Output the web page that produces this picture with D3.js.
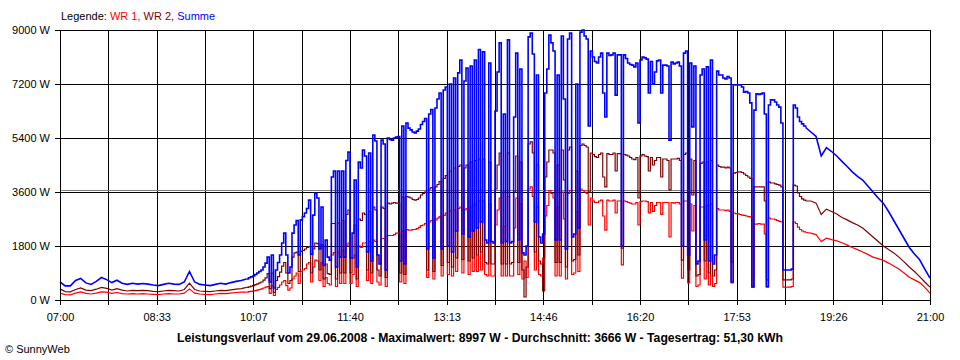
<!DOCTYPE html>
<html><head><meta charset="utf-8">
<script src="https://cdn.jsdelivr.net/npm/d3@7"></script>
<style>
html,body{margin:0;padding:0;background:#fff;}
svg{display:block;font-family:"Liberation Sans",Arial,sans-serif;}
</style></head>
<body><svg id="c" width="960" height="360"></svg>
<script>
// ---- data ----
// sampling blocks: [start minute after 07:00, step in minutes, number of samples]
const sampling = [[0,5,36],[180,2,271],[725,5,24]];
const xTickLabels = ["07:00","08:33","10:07","11:40","13:13","14:46","16:20","17:53","19:26","21:00"];
const yTickValues = [0,1800,3600,5400,7200,9000];
const yTickLabels = ["0 W","1800 W","3600 W","5400 W","7200 W","9000 W"];
const average = 3666;
const summe = [
600,470,470,650,720,570,520,620,750,680,580,660,560,520,560,530,550,530,500,480,520,560,530,520,600,950,600,520,500,480,520,560,530,580,620,650,
700,740,770,800,850,900,950,1000,1100,1230,
1430,600,1500,400,1000,1250,1500,1900,2230,1500,
900,1100,2230,2500,2650,1500,2670,2780,2900,3050,
3330,1530,2830,3560,3400,1700,3100,1150,2000,1430,
1330,4100,4300,1100,4300,1430,4300,1430,4650,4930,
1400,2230,4000,1100,4600,4400,5000,4800,1600,4900,
1300,5500,5300,1500,1200,5330,5200,1000,5400,5350,
5330,5400,5430,5450,1300,5800,1200,5900,5730,5670,
5600,5570,5630,5700,5850,5950,6050,1700,6200,6350,
1400,6400,6700,6900,1700,7000,7100,1800,7200,1600,
7400,2300,7570,8000,2200,7300,7730,2100,7800,2300,
8000,2400,8350,2600,8270,2000,1900,7900,1950,1900,
6300,7600,8570,1900,6200,1950,8670,1900,1950,6100,
8230,2000,7700,1570,1500,1800,8770,8900,8200,2600,
7500,2100,1900,2200,6900,7700,8830,8570,8300,2000,
7500,2000,8800,6700,1700,8700,8900,2100,2200,7200,
2400,8930,8997,8800,8700,5800,8300,8100,7950,7900,
8100,8230,6900,6100,8230,8150,8170,8230,6830,8170,
8170,1800,8170,8050,7900,7850,7830,7770,7900,5900,
8000,8100,8070,8030,6900,7950,7200,7600,7970,8000,
6900,7830,7830,7800,5330,7930,7870,7900,7930,7800,
1800,8230,8300,1500,7900,5770,7800,1200,1300,7500,
7700,2000,7770,1300,8000,1200,1500,7630,7500,7500,
7400,7370,7450,7400,600,7170,7170,7170,7170,7100,
6930,6950,6900,6570,450,6330,6870,6850,6870,6900,
6200,450,6500,6670,6670,6600,6500,6430,5900,1000,
1000,1000,1000,1030,6500,6400,6100,5950,5870,5800,5750,
5600,5450,4800,5080,4950,4800,4620,4450,4270,4120,4000,3800,3600,3400,3220,2950,2650,2350,2050,1750,1530,1340,1030,730
];
const wr2 = [
370,280,270,350,400,330,310,360,420,390,330,380,330,300,320,310,320,310,290,280,300,320,310,300,350,560,350,300,290,280,300,320,310,340,360,380,
420,440,460,480,510,540,570,600,660,740,
880,380,900,250,650,780,930,1130,1250,900,
550,650,1430,1570,1600,950,1620,1650,1700,1750,
1780,900,1700,1900,1880,1000,1850,700,1200,880,
850,2550,2550,700,2570,900,2650,900,2850,3000,
900,1400,2500,700,2700,2650,2900,2850,1000,2950,
900,3100,3000,1000,800,3100,3050,750,3230,3200,
3230,3250,3230,3230,900,3430,850,3450,3430,3400,
3350,3330,3350,3400,3500,3550,3600,1000,3700,3750,
950,3770,3850,3950,1150,4050,4150,1250,4300,1100,
4400,1400,4450,4500,1350,4400,4500,1300,4600,1400,
4650,1500,4700,1600,4700,1250,1200,4600,1200,1200,
3700,4500,4900,1200,3600,1200,4900,1200,1250,3600,
4800,1250,4600,1000,100,1100,5200,5270,4900,1600,
4500,1300,1200,300,4100,4600,5000,5000,4900,1250,
4500,1250,5000,4000,1100,5000,5100,1300,1350,4300,
1500,5150,5200,5150,5100,3600,4900,4850,4780,4750,
4850,4900,4100,3770,4880,4850,4850,4900,4300,4880,
4880,1730,4850,4830,4800,4750,4700,4680,4750,3400,
4800,4850,4800,4780,4300,4750,4500,4650,4750,4750,
4100,4700,4700,4650,3670,4700,4700,4700,4720,4650,
1330,4850,4900,1000,4700,3500,4650,800,850,4550,
4600,1300,4600,900,4650,800,1000,4500,4450,4430,
4430,4400,4430,4400,1250,4230,4250,4270,4270,4250,
4200,4150,4100,4050,430,3770,3770,3770,3770,3770,
3300,670,3930,3900,3900,3870,3850,3830,3770,670,
670,670,670,700,3830,3800,3570,3450,3370,3330,3300,
3300,3230,2850,3030,2950,2870,2750,2670,2580,2500,2400,2250,2100,1950,1800,1680,1570,1430,1270,1100,950,780,600,430
];
const wr1 = [
230,180,170,230,270,220,200,230,270,260,220,250,210,200,210,200,210,200,190,180,200,210,200,200,230,370,230,200,190,180,200,220,210,230,250,260,
260,280,290,300,310,330,350,370,400,430,
450,220,480,150,350,420,500,600,650,480,
330,400,700,800,900,550,950,1000,1050,1200,
1250,600,1100,1330,1300,650,1250,450,750,550,
500,1500,1580,450,1600,550,1650,550,1800,1900,
550,850,1500,450,1800,1750,1900,1900,650,1950,
550,2000,1950,600,500,2050,2050,450,2150,2150,
2150,2180,2230,2230,600,2300,550,2350,2330,2330,
2350,2350,2380,2420,2480,2500,2550,750,2600,2650,
700,2670,2730,2780,800,2820,2900,850,2970,800,
3000,950,3050,3100,900,3000,3050,850,3100,950,
3200,950,3300,1000,3300,850,800,3200,800,800,
2500,3000,3400,800,2450,800,3450,800,800,2400,
3400,850,3200,700,1300,750,3700,3770,3450,1000,
3100,850,800,1400,2800,3150,3650,3550,3400,800,
3100,800,3600,2700,700,3550,3650,850,900,2950,
950,3700,3650,3600,3550,2500,3400,3300,3250,3250,
3300,3330,2800,2330,3330,3300,3300,3330,2900,3300,
3300,1170,3300,3280,3250,3230,3200,3200,3250,2500,
3280,3300,3300,3280,2900,3250,2950,3150,3250,3250,
2850,3250,3250,3250,2100,3250,3230,3250,3250,3200,
730,3300,3300,570,3200,2300,3150,450,500,3100,
3100,700,3150,500,3200,450,550,3050,3000,3000,
3000,2980,3000,2950,570,2900,2880,2870,2850,2830,
2820,2800,2780,2770,430,2530,2530,2550,2530,2530,
2200,430,2730,2700,2700,2680,2650,2620,2600,430,
430,430,430,450,2600,2550,2430,2350,2300,2270,2250,
2230,2180,1950,2060,2010,1970,1910,1830,1750,1680,1600,1520,1430,1380,1320,1230,1130,1030,900,760,670,580,420,230
];

// ---- chart ----
const minutes = sampling.flatMap(([s, st, n]) => d3.range(n).map(i => s + i * st));
if (minutes.length !== summe.length || minutes.length !== wr1.length || minutes.length !== wr2.length) {
  throw new Error("length mismatch " + minutes.length + " " + summe.length + " " + wr1.length + " " + wr2.length);
}
const svg = d3.select("#c");
const L = 60, R = 930, T = 30, B = 300;
const x = d3.scaleLinear().domain([0, 840]).range([L, R]);
const y = d3.scaleLinear().domain([0, 9000]).range([B, T]);
const gridMin = d3.range(19).map(i => i * 840 / 18);
const font = '"Liberation Sans",Arial,sans-serif';

// vertical grid
svg.append("g").attr("transform", `translate(0,${B})`)
  .call(d3.axisBottom(x).tickValues(gridMin).tickSize(-(B - T)).tickSizeOuter(0).tickFormat(""))
  .call(g => g.select(".domain").remove())
  .call(g => g.selectAll("line").attr("stroke", "#000").attr("shape-rendering", "crispEdges"));
// horizontal grid
svg.append("g").attr("transform", `translate(${L},0)`)
  .call(d3.axisLeft(y).tickValues(yTickValues).tickSize(-(R - L)).tickSizeOuter(0).tickFormat(""))
  .call(g => g.select(".domain").remove())
  .call(g => g.selectAll("line").attr("stroke", "#000").attr("shape-rendering", "crispEdges"));

// average line
svg.append("line").attr("x1", x(0)).attr("x2", x(840))
  .attr("y1", Math.round(y(average)) + 0.5).attr("y2", Math.round(y(average)) + 0.5)
  .attr("stroke", "#808080").attr("stroke-width", 1).attr("shape-rendering", "crispEdges");

// series (Summe drawn last, on top). Fine-sampled middle block as steps.
const n0 = sampling[0][2], n1 = sampling[1][2];
const pieces = [[0, n0 + 1, d3.curveLinear], [n0, n0 + n1, d3.curveStepAfter], [n0 + n1 - 1, minutes.length, d3.curveLinear]];
[[wr1, "#ff0000", 1.2], [wr2, "#800000", 1.2], [summe, "#0000ff", 1.6]].forEach(([s, c, w]) => {
  const pts = s.map((v, i) => [minutes[i], v]);
  pieces.forEach(([a, b, curve]) => {
    svg.append("path").datum(pts.slice(a, b))
      .attr("d", d3.line().x(d => x(d[0])).y(d => y(d[1])).curve(curve))
      .attr("fill", "none").attr("stroke", c).attr("stroke-width", w)
      .attr("stroke-linejoin", "miter").attr("stroke-linecap", "butt");
  });
});

// bottom axis with ticks and labels
svg.append("g").attr("transform", `translate(0,${B})`)
  .call(d3.axisBottom(x).tickValues(gridMin).tickSize(5).tickSizeOuter(0).tickPadding(8)
    .tickFormat((d, i) => i % 2 === 0 ? xTickLabels[i / 2] : ""))
  .call(g => g.selectAll("line,path").attr("stroke", "#000").attr("shape-rendering", "crispEdges"))
  .call(g => g.selectAll("text").attr("font-family", font).attr("font-size", 11).attr("fill", "#000"));
// left axis
svg.append("g").attr("transform", `translate(${L},0)`)
  .call(d3.axisLeft(y).tickValues(yTickValues).tickSize(5).tickSizeOuter(0).tickPadding(5)
    .tickFormat((d, i) => yTickLabels[i]))
  .call(g => g.selectAll("line,path").attr("stroke", "#000").attr("shape-rendering", "crispEdges"))
  .call(g => g.selectAll("text").attr("font-family", font).attr("font-size", 11).attr("fill", "#000"));

// legend
const leg = svg.append("text").attr("x", 61).attr("y", 20).attr("font-size", 11).attr("font-family", font);
[["Legende: ", "#000"], ["WR 1, ", "#ff0000"], ["WR 2, ", "#800000"], ["Summe", "#0000ff"]]
  .forEach(([t, c]) => leg.append("tspan").attr("fill", c).text(t));

// title
svg.append("text").attr("x", 480).attr("y", 342).attr("text-anchor", "middle")
  .attr("font-family", font).attr("font-weight", "bold").attr("font-size", 12)
  .attr("textLength", 606).attr("lengthAdjust", "spacingAndGlyphs")
  .text("Leistungsverlauf vom 29.06.2008 - Maximalwert: 8997 W - Durchschnitt: 3666 W - Tagesertrag: 51,30 kWh");
svg.append("text").attr("x", 5).attr("y", 353).attr("font-family", font).attr("font-size", 11)
  .text("© SunnyWeb");
</script></body></html>
